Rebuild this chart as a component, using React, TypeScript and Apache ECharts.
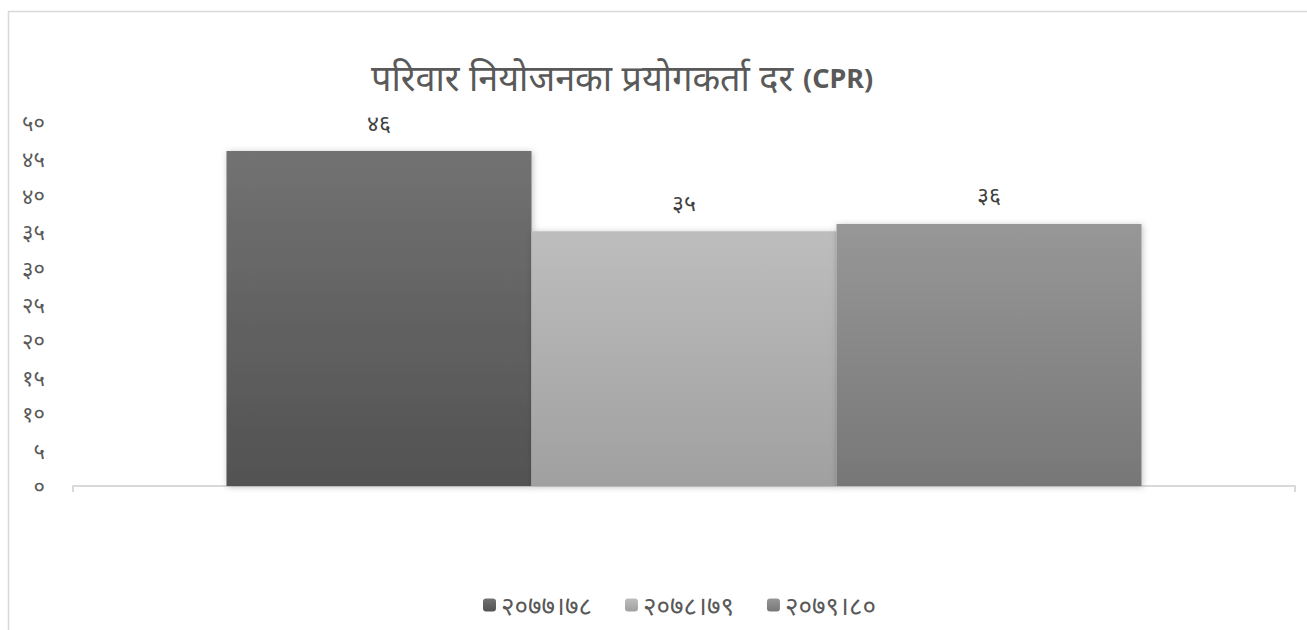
import React, { useEffect, useRef } from "react";
import * as echarts from "echarts";

const titleMain = "परिवार नियोजनका प्रयोगकर्ता दर";
const titleSuffix = "(CPR)";
const seriesNames = ["२०७७।७८", "२०७८।७९", "२०७९।८०"];
const seriesValues = [46, 35, 36];
const categories = [""];
const devDigits = ["०", "१", "२", "३", "४", "५", "६", "७", "८", "९"];

const toDev = (n: number) => String(n).replace(/[0-9]/g, (d) => devDigits[+d]);

const gradients = [
  ["#727272", "#525252"],
  ["#bdbdbd", "#a0a0a0"],
  ["#979797", "#777777"],
];

export default function App() {
  const ref = useRef<HTMLDivElement>(null);
  useEffect(() => {
    const chart = echarts.init(ref.current!, null, { renderer: "svg" });
    const font = "'Noto Sans', sans-serif";
    chart.setOption({
      animation: false,
      title: {
        text: `{a|${titleMain}}  {b|${titleSuffix}}`,
        left: 366,
        top: 54,
        textStyle: {
          rich: {
            a: { fontFamily: font, fontSize: 36, fontWeight: "normal", color: "#595959" },
            b: { fontFamily: font, fontSize: 27, fontWeight: "bold", color: "#595959" },
          },
        },
      },
      legend: {
        top: 587,
        left: 478,
        itemWidth: 13,
        itemHeight: 13,
        itemGap: 33,
        textStyle: { fontFamily: font, fontSize: 26, color: "#595959" },
        data: seriesNames,
      },
      grid: { left: 73, right: 12, top: 122, bottom: 144, containLabel: false },
      xAxis: {
        type: "category",
        data: categories,
        axisLine: { lineStyle: { color: "#d9d9d9", width: 2 } },
        axisTick: { show: true, length: 6, lineStyle: { color: "#d9d9d9", width: 2 } },
        axisLabel: { show: false },
      },
      yAxis: {
        type: "value",
        min: 0,
        max: 50,
        interval: 5,
        splitLine: { show: false },
        axisLine: { show: false },
        axisLabel: {
          margin: 28,
          fontFamily: font,
          fontSize: 22,
          color: "#595959",
          formatter: (v: number) => toDev(v),
        },
      },
      series: seriesNames.map((name, i) => ({
        name,
        type: "bar",
        barWidth: 305,
        barGap: "0%",
        data: [seriesValues[i]],
        itemStyle: {
          color: new echarts.graphic.LinearGradient(0, 0, 0, 1, [
            { offset: 0, color: gradients[i][0] },
            { offset: 1, color: gradients[i][1] },
          ]),
          shadowBlur: 6,
          shadowColor: "rgba(0,0,0,0.25)",
          shadowOffsetX: 1,
          shadowOffsetY: 1,
        },
        label: {
          show: true,
          position: "top",
          distance: 18,
          fontFamily: font,
          fontSize: 23,
          color: "#404040",
          formatter: (p: any) => toDev(p.value),
        },
      })),
      graphic: [
        {
          type: "rect",
          shape: { x: 8.5, y: 11.5, width: 1310, height: 630 },
          style: { fill: "none", stroke: "#d9d9d9", lineWidth: 1.5 },
          silent: true,
        },
      ],
    });
    return () => chart.dispose();
  }, []);
  return (
    <div
      ref={ref}
      style={{ position: "absolute", left: 0, top: 0, width: 1307, height: 630 }}
    />
  );
}
